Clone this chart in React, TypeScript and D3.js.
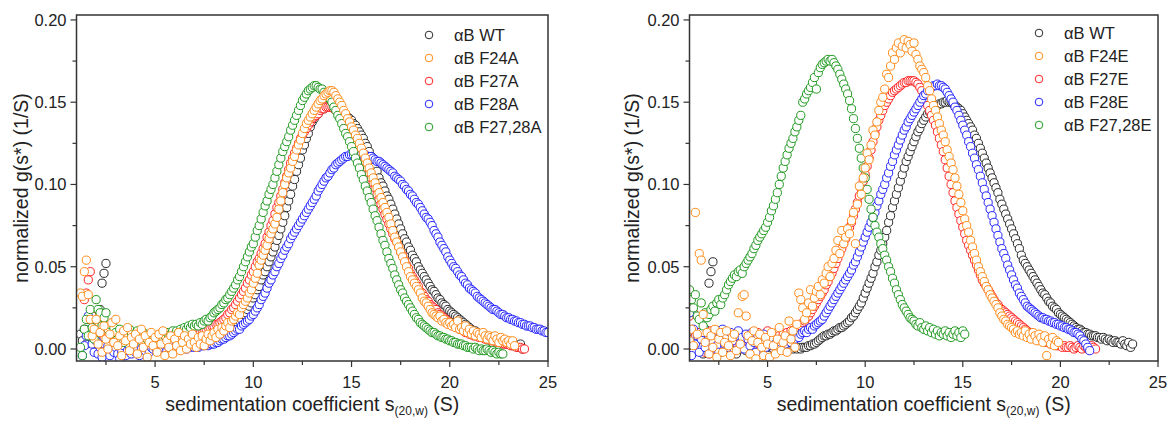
import React from "react";
import * as d3 from "d3";

// sampling step of g(s*) distributions (S)
const S_STEP = 0.1;

// ---------- left panel: alanine mutants ----------
const legendA = ["αB WT", "αB F24A", "αB F27A", "αB F28A", "αB F27,28A"];
const legendE = ["αB WT", "αB F24E", "αB F27E", "αB F28E", "αB F27,28E"];
const COLORS = ["#2a2a2a", "#FF8C1A", "#FF2424", "#2424FF", "#1F991F"];
const DRAW_ORDER = [0, 2, 3, 4, 1];

const xTicks = [5, 10, 15, 20, 25];
const xMinor = [2.5, 7.5, 12.5, 17.5, 22.5];
const yTicks = [0, 0.05, 0.1, 0.15, 0.2];
const yMinor = [0.025, 0.075, 0.125, 0.175];

const wtA_s0 = 1.2;
const wtA = [
  0.009, 0.005, 0.012, 0.003, 0.018, 0.010, 0.006, 0.014,
  0.022, 0.015, 0.024, 0.040, 0.046, 0.052, 0.012, 0.006, 0.003, 0.001,
  0.004, 0.000, -0.002, 0.003, 0.005, 0.001, -0.003, 0.002, 0.004, 0.000,
  0.002, -0.001, 0.003, 0.006, 0.001, 0.004, 0.008, 0.003, 0.000, 0.005,
  0.004, 0.002, 0.006, 0.001, 0.003, 0.005, 0.002, 0.004, 0.006, 0.003,
  0.004, 0.005, 0.003, 0.006, 0.004, 0.005, 0.007, 0.004, 0.006, 0.005,
  0.006, 0.005, 0.007, 0.006, 0.008, 0.007, 0.008, 0.009, 0.008, 0.010,
  0.009, 0.010, 0.009, 0.011, 0.010, 0.012, 0.011, 0.012, 0.013, 0.013,
  0.014, 0.015, 0.016, 0.017, 0.018, 0.021, 0.022, 0.024, 0.026, 0.028,
  0.031, 0.033, 0.036, 0.038, 0.042, 0.045, 0.047, 0.050, 0.053, 0.056,
  0.059, 0.062, 0.066, 0.069, 0.073, 0.077, 0.081, 0.086, 0.090, 0.094,
  0.099, 0.103, 0.108, 0.112, 0.116, 0.121, 0.124, 0.128, 0.131, 0.135,
  0.138, 0.140, 0.142, 0.143, 0.145, 0.146, 0.146, 0.147, 0.147, 0.148,
  0.147, 0.147, 0.146, 0.146, 0.145, 0.144, 0.143, 0.142, 0.141, 0.140,
  0.139, 0.137, 0.136, 0.134, 0.132, 0.130, 0.128, 0.125, 0.123, 0.120,
  0.117, 0.114, 0.111, 0.108, 0.104, 0.101, 0.099, 0.096, 0.093, 0.091,
  0.088, 0.085, 0.082, 0.079, 0.076, 0.073, 0.070, 0.067, 0.065, 0.062,
  0.060, 0.057, 0.055, 0.053, 0.050, 0.048, 0.046, 0.044, 0.042, 0.040,
  0.038, 0.036, 0.035, 0.033, 0.031, 0.030, 0.028, 0.027, 0.026, 0.024,
  0.023, 0.022, 0.021, 0.020, 0.019, 0.018, 0.017, 0.016, 0.015, 0.014,
  0.013, 0.012, 0.011, 0.011, 0.010, 0.009, 0.009, 0.008, 0.008, 0.007,
  0.007, 0.006, 0.006, 0.005, 0.006, 0.005, 0.004, 0.005, 0.004, 0.003,
  0.003, 0.004, 0.002, 0.003, 0.002, 0.001, 0.003, 0.000,
];

const f24A_s0 = 1.2;
const f24A = [
  0.034, 0.032, 0.047, 0.054, 0.033, 0.018, 0.008, 0.012,
  0.018, 0.003, 0.010, -0.002, 0.014, 0.006, 0.000, 0.009, 0.016, 0.004,
  0.018, 0.002, 0.008, -0.004, 0.011, 0.005, 0.013, -0.001, 0.007, 0.003,
  0.009, -0.003, 0.006, 0.012, 0.001, 0.008, -0.005, 0.004, 0.010, 0.002,
  0.007, -0.002, 0.009, 0.003, 0.011, -0.004, 0.005, 0.001, 0.008, -0.003,
  0.006, 0.002, 0.010, -0.001, 0.004, 0.008, 0.000, 0.006, 0.003, 0.009,
  0.004, 0.001, 0.007, 0.003, 0.008, 0.002, 0.006, 0.009, 0.005, 0.008,
  0.010, 0.007, 0.012, 0.009, 0.013, 0.011, 0.014, 0.016, 0.013, 0.017,
  0.018, 0.020, 0.022, 0.021, 0.025, 0.027, 0.029, 0.031, 0.034, 0.036,
  0.040, 0.043, 0.046, 0.051, 0.054, 0.057, 0.060, 0.063, 0.067, 0.070,
  0.073, 0.076, 0.080, 0.085, 0.090, 0.095, 0.100, 0.104, 0.107, 0.110,
  0.114, 0.117, 0.121, 0.124, 0.127, 0.131, 0.134, 0.137, 0.139, 0.141,
  0.143, 0.145, 0.147, 0.149, 0.151, 0.152, 0.154, 0.155, 0.156, 0.157,
  0.157, 0.156, 0.154, 0.152, 0.150, 0.148, 0.145, 0.143, 0.140, 0.138,
  0.135, 0.133, 0.130, 0.128, 0.125, 0.122, 0.119, 0.116, 0.113, 0.110,
  0.107, 0.104, 0.101, 0.098, 0.095, 0.092, 0.089, 0.086, 0.083, 0.080,
  0.076, 0.072, 0.068, 0.065, 0.062, 0.059, 0.056, 0.053, 0.050, 0.047,
  0.044, 0.042, 0.040, 0.038, 0.036, 0.034, 0.031, 0.029, 0.028, 0.026,
  0.024, 0.022, 0.021, 0.020, 0.019, 0.020, 0.017, 0.018, 0.016, 0.015,
  0.016, 0.014, 0.015, 0.013, 0.017, 0.012, 0.013, 0.011, 0.014, 0.010,
  0.012, 0.009, 0.011, 0.008, 0.010, 0.009, 0.007, 0.010, 0.008, 0.006,
  0.008, 0.007, 0.005, 0.008, 0.006, 0.004, 0.007, 0.005, 0.006, 0.004,
  0.005, 0.003, 0.005, 0.002,
];

const f27A_s0 = 1.4;
const f27A = [
  0.030, 0.034, 0.042, 0.047, 0.020, 0.012,
  0.008, 0.004, 0.010, 0.002, 0.006, 0.000, 0.005, -0.002, 0.003, 0.007,
  0.002, 0.005, -0.001, 0.004, 0.006, 0.001, 0.003, 0.007, 0.002, 0.004,
  0.005, 0.001, 0.006, 0.003, 0.002, 0.007, 0.004, 0.001, 0.005, 0.003,
  0.004, 0.006, 0.002, 0.005, 0.003, 0.007, 0.004, 0.006, 0.005, 0.007,
  0.005, 0.007, 0.006, 0.008, 0.007, 0.009, 0.008, 0.009, 0.008, 0.010,
  0.009, 0.010, 0.010, 0.011, 0.011, 0.011, 0.012, 0.013, 0.013, 0.014,
  0.014, 0.015, 0.015, 0.016, 0.017, 0.018, 0.019, 0.021, 0.022, 0.024,
  0.025, 0.027, 0.029, 0.031, 0.033, 0.035, 0.037, 0.040, 0.042, 0.045,
  0.047, 0.050, 0.053, 0.055, 0.058, 0.061, 0.064, 0.068, 0.071, 0.075,
  0.078, 0.082, 0.086, 0.089, 0.093, 0.097, 0.101, 0.105, 0.109, 0.113,
  0.116, 0.119, 0.122, 0.125, 0.128, 0.130, 0.132, 0.134, 0.136, 0.138,
  0.140, 0.141, 0.142, 0.143, 0.145, 0.146, 0.146, 0.147, 0.147, 0.147,
  0.147, 0.146, 0.145, 0.144, 0.143, 0.142, 0.140, 0.139, 0.137, 0.135,
  0.133, 0.131, 0.128, 0.126, 0.123, 0.120, 0.117, 0.114, 0.110, 0.107,
  0.104, 0.101, 0.098, 0.094, 0.091, 0.088, 0.085, 0.082, 0.079, 0.076,
  0.073, 0.070, 0.067, 0.065, 0.062, 0.059, 0.057, 0.054, 0.051, 0.049,
  0.046, 0.044, 0.042, 0.040, 0.038, 0.035, 0.034, 0.032, 0.030, 0.029,
  0.027, 0.026, 0.025, 0.024, 0.022, 0.021, 0.020, 0.019, 0.018, 0.017,
  0.016, 0.015, 0.014, 0.014, 0.013, 0.012, 0.012, 0.011, 0.010, 0.010,
  0.009, 0.009, 0.008, 0.008, 0.008, 0.007, 0.007, 0.007, 0.006, 0.006,
  0.006, 0.005, 0.005, 0.005, 0.004, 0.004, 0.004, 0.003, 0.003, 0.003,
  0.003, 0.002, 0.002, 0.002, 0.001, 0.001, 0.001, 0.000, 0.000,
];

const f28A_s0 = 1.3;
const f28A = [
  -0.004, 0.002, 0.008, 0.020, 0.012, 0.003, -0.002,
  0.005, -0.003, 0.001, -0.005, 0.003, -0.001, 0.002, -0.004, 0.000, -0.002,
  0.001, -0.003, -0.006, -0.002, 0.002, -0.004, -0.001, 0.001, -0.003, 0.000,
  -0.002, 0.001, -0.004, 0.000, 0.002, -0.001, 0.003, -0.002, 0.001, 0.000,
  0.001, -0.001, 0.002, 0.000, 0.001, 0.002, -0.001, 0.001, 0.002, 0.000,
  0.001, 0.002, 0.000, 0.001, 0.002, 0.001, 0.000, 0.002, 0.001, 0.002,
  0.001, 0.002, 0.001, 0.003, 0.002, 0.002, 0.003, 0.002, 0.003, 0.003,
  0.003, 0.004, 0.004, 0.005, 0.006, 0.006, 0.007, 0.008, 0.008, 0.009,
  0.010, 0.011, 0.012, 0.012, 0.014, 0.015, 0.016, 0.017, 0.018, 0.020,
  0.021, 0.023, 0.025, 0.027, 0.030, 0.032, 0.034, 0.037, 0.040, 0.042,
  0.045, 0.047, 0.050, 0.052, 0.055, 0.057, 0.060, 0.062, 0.064, 0.067,
  0.069, 0.071, 0.073, 0.075, 0.077, 0.079, 0.081, 0.083, 0.085, 0.087,
  0.089, 0.091, 0.093, 0.096, 0.098, 0.100, 0.102, 0.104, 0.105, 0.107,
  0.109, 0.110, 0.112, 0.113, 0.114, 0.115, 0.116, 0.117, 0.117, 0.118,
  0.118, 0.118, 0.119, 0.118, 0.119, 0.118, 0.118, 0.118, 0.117, 0.117,
  0.117, 0.116, 0.115, 0.114, 0.114, 0.113, 0.112, 0.111, 0.110, 0.109,
  0.108, 0.107, 0.105, 0.104, 0.103, 0.102, 0.100, 0.099, 0.097, 0.096,
  0.094, 0.093, 0.091, 0.089, 0.088, 0.086, 0.084, 0.082, 0.080, 0.079,
  0.077, 0.075, 0.072, 0.070, 0.068, 0.065, 0.063, 0.061, 0.059, 0.056,
  0.054, 0.052, 0.050, 0.049, 0.047, 0.045, 0.044, 0.042, 0.040, 0.039,
  0.037, 0.036, 0.035, 0.034, 0.032, 0.031, 0.030, 0.029, 0.028, 0.027,
  0.026, 0.025, 0.024, 0.024, 0.023, 0.022, 0.021, 0.021, 0.020, 0.019,
  0.019, 0.018, 0.018, 0.017, 0.017, 0.016, 0.016, 0.015, 0.015, 0.014,
  0.014, 0.014, 0.013, 0.013, 0.012, 0.012, 0.012, 0.011, 0.011, 0.010,
  0.010,
];

const f2728A_s0 = 1.2;
const f2728A = [
  0.001, -0.004, 0.012, 0.018, 0.008, 0.024, 0.013, 0.006,
  0.030, 0.024, 0.022, 0.014, 0.019, 0.022, 0.012, 0.015, 0.009, 0.013,
  0.010, 0.006, 0.012, 0.008, 0.004, 0.011, 0.007, 0.012, 0.009, 0.006,
  0.009, 0.011, 0.007, 0.005, 0.010, 0.008, 0.006, 0.009, 0.007, 0.008,
  0.006, 0.008, 0.007, 0.009, 0.006, 0.008, 0.010, 0.007, 0.009, 0.011,
  0.009, 0.011, 0.010, 0.012, 0.011, 0.013, 0.012, 0.014, 0.013, 0.015,
  0.014, 0.015, 0.014, 0.016, 0.015, 0.017, 0.018, 0.017, 0.019, 0.020,
  0.022, 0.023, 0.024, 0.025, 0.027, 0.028, 0.030, 0.031, 0.033, 0.035,
  0.037, 0.039, 0.042, 0.044, 0.047, 0.050, 0.053, 0.056, 0.059, 0.062,
  0.064, 0.068, 0.072, 0.075, 0.079, 0.083, 0.087, 0.090, 0.094, 0.097,
  0.100, 0.104, 0.108, 0.112, 0.116, 0.120, 0.123, 0.126, 0.129, 0.133,
  0.136, 0.139, 0.142, 0.145, 0.148, 0.151, 0.153, 0.155, 0.157, 0.158,
  0.159, 0.160, 0.160, 0.159, 0.158, 0.158, 0.156, 0.155, 0.153, 0.152,
  0.150, 0.147, 0.145, 0.142, 0.140, 0.137, 0.134, 0.131, 0.129, 0.126,
  0.123, 0.120, 0.116, 0.113, 0.110, 0.106, 0.103, 0.099, 0.096, 0.092,
  0.089, 0.085, 0.081, 0.078, 0.074, 0.070, 0.066, 0.063, 0.059, 0.055,
  0.052, 0.049, 0.045, 0.042, 0.039, 0.036, 0.034, 0.031, 0.029, 0.027,
  0.025, 0.023, 0.021, 0.019, 0.018, 0.016, 0.015, 0.014, 0.013, 0.012,
  0.011, 0.010, 0.010, 0.009, 0.008, 0.008, 0.007, 0.007, 0.006, 0.006,
  0.005, 0.005, 0.004, 0.004, 0.003, 0.003, 0.003, 0.002, 0.002, 0.001,
  0.001, 0.001, 0.000, 0.001, 0.000, -0.001, 0.000, -0.001, -0.001, 0.000,
  -0.001, -0.002, -0.001, -0.002, -0.003, -0.002, -0.003, -0.003,
];

// ---------- right panel: glutamate mutants ----------
const wtE_s0 = 1.0;
const wtE = [
  0.000, 0.006, -0.002, 0.004, 0.010, 0.002, 0.008, -0.003, 0.012, 0.005,
  0.040, 0.047, 0.053, 0.008, 0.003, 0.011, -0.002, 0.006, 0.001, 0.009,
  0.004, -0.003, 0.007, 0.002, -0.003, 0.005, 0.000, 0.008, 0.003, -0.001,
  0.006, 0.002, 0.009, 0.001, 0.004, 0.008, 0.003, 0.000, 0.005, 0.002,
  0.004, 0.001, 0.003, 0.000, 0.002, 0.004, 0.001, 0.003, 0.000, 0.002,
  0.001, 0.000, 0.002, 0.000, 0.001, 0.000, 0.001, 0.000, 0.001, 0.001,
  0.001, 0.002, 0.002, 0.003, 0.003, 0.004, 0.005, 0.006, 0.007, 0.008,
  0.008, 0.009, 0.009, 0.010, 0.011, 0.011, 0.012, 0.013, 0.013, 0.014,
  0.015, 0.016, 0.017, 0.019, 0.020, 0.022, 0.024, 0.026, 0.028, 0.031,
  0.034, 0.037, 0.040, 0.043, 0.046, 0.050, 0.053, 0.057, 0.060, 0.064,
  0.068, 0.072, 0.077, 0.081, 0.086, 0.090, 0.094, 0.098, 0.102, 0.106,
  0.110, 0.114, 0.117, 0.120, 0.123, 0.126, 0.129, 0.132, 0.134, 0.137,
  0.139, 0.141, 0.143, 0.144, 0.145, 0.146, 0.147, 0.148, 0.149, 0.149,
  0.150, 0.150, 0.151, 0.150, 0.150, 0.149, 0.148, 0.147, 0.146, 0.145,
  0.143, 0.141, 0.139, 0.137, 0.135, 0.133, 0.130, 0.128, 0.125, 0.122,
  0.119, 0.116, 0.113, 0.110, 0.107, 0.104, 0.101, 0.098, 0.095, 0.091,
  0.088, 0.085, 0.082, 0.079, 0.076, 0.073, 0.070, 0.067, 0.064, 0.061,
  0.057, 0.054, 0.052, 0.050, 0.048, 0.046, 0.044, 0.042, 0.040, 0.038,
  0.036, 0.034, 0.033, 0.031, 0.029, 0.028, 0.026, 0.025, 0.024, 0.022,
  0.021, 0.020, 0.019, 0.018, 0.017, 0.016, 0.015, 0.014, 0.013, 0.012,
  0.012, 0.011, 0.010, 0.010, 0.009, 0.009, 0.008, 0.008, 0.008, 0.007,
  0.007, 0.006, 0.007, 0.006, 0.005, 0.006, 0.005, 0.004, 0.005, 0.004,
  0.004, 0.003, 0.005, 0.003, 0.002, 0.004, 0.001, 0.003,
];

const f24E_s0 = 1.0;
const f24E = [
  0.005, 0.012, 0.002, 0.083, 0.009, 0.058, 0.054, 0.021, 0.004, 0.010,
  -0.003, 0.008, 0.001, 0.012, -0.005, 0.006, 0.010, -0.002, 0.004, 0.011,
  0.002, -0.004, 0.007, 0.009, -0.001, 0.022, 0.003, 0.032, 0.033, 0.020,
  0.008, -0.003, 0.005, 0.011, -0.006, 0.004, 0.009, 0.001, -0.004, 0.007,
  0.003, -0.005, 0.010, 0.002, -0.003, 0.006, 0.013, -0.001, 0.004, 0.008,
  -0.002, 0.017, 0.006, 0.011, 0.001, 0.015, 0.034, 0.030, 0.025, 0.018,
  0.022, 0.028, 0.036, 0.026, 0.031, 0.035, 0.038, 0.033, 0.042, 0.040,
  0.046, 0.050, 0.044, 0.052, 0.055, 0.060, 0.066, 0.058, 0.072, 0.064,
  0.068, 0.073, 0.070, 0.078, 0.083, 0.064, 0.088, 0.099, 0.094, 0.104,
  0.110, 0.119, 0.115, 0.124, 0.133, 0.130, 0.138, 0.145, 0.150, 0.153,
  0.158, 0.167, 0.165, 0.172, 0.180, 0.176, 0.183, 0.186, 0.180, 0.184,
  0.188, 0.183, 0.187, 0.185, 0.181, 0.186, 0.179, 0.176, 0.172, 0.170,
  0.168, 0.165, 0.160, 0.157, 0.152, 0.148, 0.145, 0.141, 0.137, 0.133,
  0.130, 0.126, 0.121, 0.117, 0.113, 0.109, 0.104, 0.099, 0.094, 0.089,
  0.084, 0.079, 0.075, 0.071, 0.066, 0.062, 0.058, 0.054, 0.050, 0.047,
  0.044, 0.041, 0.038, 0.036, 0.033, 0.031, 0.029, 0.027, 0.025, 0.022,
  0.020, 0.018, 0.017, 0.015, 0.014, 0.013, 0.012, 0.010, 0.011, 0.009,
  0.010, 0.008, 0.011, 0.007, 0.009, 0.006, 0.010, 0.008, 0.005, 0.009,
  0.007, 0.004, 0.008, -0.004, 0.006, 0.003, 0.007, 0.002, 0.005, 0.004,
];

const f27E_s0 = 1.0;
const f27E = [
  0.020, 0.025, 0.022, 0.008, 0.003, 0.010, 0.001, 0.006, -0.002, 0.009,
  0.004, 0.011, 0.002, 0.007, -0.001, 0.005, 0.010, 0.003, 0.008, 0.001,
  0.006, 0.009, 0.002, 0.007, 0.004, 0.010, 0.003, 0.008, 0.005, 0.002,
  0.007, 0.004, 0.009, 0.003, 0.006, 0.010, 0.005, 0.002, 0.008, 0.006,
  0.011, 0.007, 0.004, 0.009, 0.006, 0.010, 0.008, 0.005, 0.009, 0.007,
  0.010, 0.008, 0.011, 0.009, 0.012, 0.011, 0.013, 0.014, 0.016, 0.017,
  0.019, 0.020, 0.022, 0.024, 0.026, 0.028, 0.030, 0.032, 0.034, 0.036,
  0.039, 0.041, 0.044, 0.046, 0.049, 0.052, 0.055, 0.058, 0.061, 0.064,
  0.067, 0.070, 0.074, 0.077, 0.081, 0.085, 0.089, 0.093, 0.097, 0.102,
  0.106, 0.111, 0.116, 0.121, 0.126, 0.131, 0.135, 0.139, 0.142, 0.145,
  0.148, 0.150, 0.152, 0.154, 0.156, 0.157, 0.158, 0.159, 0.160, 0.161,
  0.162, 0.162, 0.163, 0.163, 0.163, 0.163, 0.162, 0.161, 0.159, 0.157,
  0.154, 0.151, 0.148, 0.145, 0.142, 0.139, 0.136, 0.132, 0.128, 0.124,
  0.120, 0.115, 0.110, 0.105, 0.100, 0.095, 0.090, 0.086, 0.082, 0.078,
  0.074, 0.070, 0.066, 0.063, 0.060, 0.057, 0.054, 0.051, 0.048, 0.045,
  0.042, 0.040, 0.038, 0.036, 0.034, 0.032, 0.030, 0.028, 0.027, 0.025,
  0.024, 0.023, 0.022, 0.021, 0.020, 0.019, 0.018, 0.017, 0.016, 0.015,
  0.014, 0.013, 0.012, 0.011, 0.010, 0.009, 0.009, 0.008, 0.007, 0.006,
  0.006, 0.005, 0.005, 0.004, 0.004, 0.003, 0.003, 0.003, 0.002, 0.002,
  0.002, 0.001, 0.002, 0.001, 0.001, 0.002, 0.001, 0.000, 0.001, 0.002,
  0.001, 0.000, 0.002, 0.001, 0.000, 0.001, 0.002, 0.001, 0.000,
];

const f28E_s0 = 1.0;
const f28E = [
  0.022, -0.004, 0.012, 0.003, 0.008, -0.002, 0.006, 0.010, 0.001, 0.005,
  -0.003, 0.009, 0.004, 0.011, 0.002, -0.002, 0.007, 0.012, 0.003, 0.008,
  0.001, 0.010, 0.005, -0.001, 0.008, 0.011, 0.003, 0.007, 0.000, 0.009,
  0.006, 0.002, 0.010, 0.004, -0.002, 0.008, 0.005, 0.003, 0.009, 0.001,
  0.007, 0.004, 0.002, 0.006, 0.003, 0.005, 0.001, 0.004, 0.006, 0.003,
  0.005, 0.006, 0.004, 0.007, 0.006, 0.008, 0.007, 0.009, 0.010, 0.011,
  0.010, 0.012, 0.013, 0.012, 0.014, 0.015, 0.016, 0.017, 0.018, 0.020,
  0.022, 0.024, 0.026, 0.028, 0.030, 0.032, 0.034, 0.036, 0.038, 0.040,
  0.042, 0.044, 0.046, 0.048, 0.051, 0.053, 0.056, 0.059, 0.062, 0.065,
  0.068, 0.071, 0.074, 0.077, 0.080, 0.083, 0.087, 0.090, 0.094, 0.097,
  0.100, 0.104, 0.107, 0.111, 0.114, 0.118, 0.121, 0.124, 0.127, 0.130,
  0.133, 0.135, 0.138, 0.140, 0.142, 0.144, 0.146, 0.148, 0.150, 0.152,
  0.154, 0.155, 0.157, 0.158, 0.159, 0.160, 0.160, 0.161, 0.160, 0.160,
  0.159, 0.158, 0.156, 0.154, 0.152, 0.150, 0.147, 0.145, 0.142, 0.139,
  0.136, 0.133, 0.130, 0.126, 0.123, 0.119, 0.116, 0.112, 0.109, 0.105,
  0.101, 0.097, 0.093, 0.089, 0.085, 0.081, 0.077, 0.073, 0.069, 0.065,
  0.061, 0.058, 0.055, 0.051, 0.048, 0.045, 0.042, 0.039, 0.037, 0.034,
  0.032, 0.030, 0.028, 0.026, 0.025, 0.024, 0.023, 0.022, 0.021, 0.020,
  0.019, 0.019, 0.018, 0.018, 0.017, 0.017, 0.016, 0.016, 0.015, 0.015,
  0.014, 0.014, 0.013, 0.013, 0.012, 0.012, 0.011, 0.010, 0.010, 0.009,
  0.008, 0.006, 0.005, 0.003, 0.001, -0.001,
];

const f2728E_s0 = 1.0;
const f2728E = [
  0.036, 0.030, 0.025, 0.033, 0.020, 0.018, 0.028, 0.014, 0.022, 0.019,
  0.021, 0.024, 0.026, 0.023, 0.028, 0.030, 0.027, 0.031, 0.033, 0.036,
  0.039, 0.041, 0.043, 0.045, 0.044, 0.047, 0.048, 0.046, 0.050, 0.052,
  0.054, 0.056, 0.058, 0.061, 0.063, 0.066, 0.068, 0.070, 0.072, 0.074,
  0.077, 0.080, 0.084, 0.087, 0.091, 0.095, 0.100, 0.105, 0.110, 0.114,
  0.118, 0.122, 0.125, 0.128, 0.132, 0.135, 0.139, 0.142, 0.150, 0.152,
  0.155, 0.157, 0.159, 0.162, 0.165, 0.158, 0.168, 0.171, 0.173, 0.174,
  0.175, 0.176, 0.175, 0.176, 0.174, 0.172, 0.170, 0.167, 0.164, 0.161,
  0.158, 0.155, 0.151, 0.146, 0.140, 0.134, 0.128, 0.122, 0.116, 0.110,
  0.104, 0.097, 0.091, 0.085, 0.080, 0.075, 0.071, 0.068, 0.064, 0.061,
  0.057, 0.054, 0.050, 0.047, 0.043, 0.040, 0.036, 0.033, 0.030, 0.027,
  0.025, 0.023, 0.021, 0.019, 0.018, 0.017, 0.015, 0.014, 0.016, 0.013,
  0.012, 0.014, 0.011, 0.013, 0.010, 0.012, 0.009, 0.011, 0.008, 0.010,
  0.009, 0.011, 0.008, 0.010, 0.007, 0.009, 0.011, 0.008, 0.010, 0.007,
  0.011, 0.009,
];

type Series = { s0: number; vals: number[] };

const seriesA: Series[] = [
  { s0: wtA_s0, vals: wtA },
  { s0: f24A_s0, vals: f24A },
  { s0: f27A_s0, vals: f27A },
  { s0: f28A_s0, vals: f28A },
  { s0: f2728A_s0, vals: f2728A },
];
const seriesE: Series[] = [
  { s0: wtE_s0, vals: wtE },
  { s0: f24E_s0, vals: f24E },
  { s0: f27E_s0, vals: f27E },
  { s0: f28E_s0, vals: f28E },
  { s0: f2728E_s0, vals: f2728E },
];

const FONT = "'Liberation Sans', Arial, Helvetica, sans-serif";
const TOP = 15;
const BOTTOM = 361;
const R = 4.1;

function Panel(props: {
  id: string;
  left: number;
  right: number;
  series: Series[];
  legend: string[];
  legX: number;
  legY: number;
  yTitleX: number;
}) {
  const { id, left, right, series, legend, legX, legY, yTitleX } = props;
  const x = d3.scaleLinear().domain([1, 25]).range([left, right]);
  const y = d3.scaleLinear().domain([-0.0073, 0.203]).range([BOTTOM, TOP]);
  const fmt = d3.format(".2f");
  const cx = (left + right) / 2;
  return (
    <g>
      <defs>
        <clipPath id={id}>
          <rect x={left} y={TOP} width={right - left} height={BOTTOM - TOP} />
        </clipPath>
      </defs>
      <g clipPath={`url(#${id})`}>
        {DRAW_ORDER.map((k) => (
          <g key={k} stroke={COLORS[k]} fill="#fff" strokeWidth={1}>
            {series[k].vals.map((v, i) => (
              <circle key={i} cx={x(series[k].s0 + i * S_STEP)} cy={y(v)} r={R} />
            ))}
          </g>
        ))}
      </g>
      <rect x={left} y={TOP} width={right - left} height={BOTTOM - TOP} fill="none" stroke="#333" strokeWidth={1.5} />
      {xTicks.map((t) => (
        <g key={"x" + t}>
          <line x1={x(t)} x2={x(t)} y1={BOTTOM} y2={BOTTOM + 6} stroke="#333" strokeWidth={1.2} />
          <text x={x(t)} y={388} textAnchor="middle" fontSize={16.5} fill="#222" fontFamily={FONT}>{t}</text>
        </g>
      ))}
      {xMinor.map((t) => (
        <line key={"xm" + t} x1={x(t)} x2={x(t)} y1={BOTTOM} y2={BOTTOM + 4} stroke="#333" strokeWidth={1.2} />
      ))}
      {yTicks.map((t) => (
        <g key={"y" + t}>
          <line x1={left - 6} x2={left} y1={y(t)} y2={y(t)} stroke="#333" strokeWidth={1.2} />
          <text x={left - 10} y={y(t)} dy="0.36em" textAnchor="end" fontSize={16.5} fill="#222" fontFamily={FONT}>{fmt(t)}</text>
        </g>
      ))}
      {yMinor.map((t) => (
        <line key={"ym" + t} x1={left - 4} x2={left} y1={y(t)} y2={y(t)} stroke="#333" strokeWidth={1.2} />
      ))}
      <text x={cx} y={411} textAnchor="middle" fontSize={19.5} fill="#222" fontFamily={FONT}>
        sedimentation coefficient s
        <tspan fontSize={12} dy={4}>(20,w)</tspan>
        <tspan dy={-4}> (S)</tspan>
      </text>
      <text
        transform={`translate(${yTitleX},${(TOP + BOTTOM) / 2}) rotate(-90)`}
        textAnchor="middle"
        dy="0.35em"
        fontSize={19.5}
        fill="#222"
        fontFamily={FONT}
      >
        normalized g(s*) (1/S)
      </text>
      {legend.map((name, k) => (
        <g key={name}>
          <circle cx={legX} cy={legY + k * 23} r={3.8} fill="#fff" stroke={COLORS[k]} strokeWidth={1} />
          <text x={legX + 25} y={legY + k * 23} dy="0.36em" fontSize={16.5} fill="#222" fontFamily={FONT}>{name}</text>
        </g>
      ))}
    </g>
  );
}

export default function App() {
  return (
    <svg
      width={1170}
      height={421}
      style={{ position: "absolute", left: 0, top: 0, background: "#fff" }}
    >
      <Panel id="clipA" left={76.5} right={548} series={seriesA} legend={legendA} legX={429} legY={35} yTitleX={21} />
      <Panel id="clipE" left={689.5} right={1158} series={seriesE} legend={legendE} legX={1039} legY={33} yTitleX={632} />
    </svg>
  );
}
